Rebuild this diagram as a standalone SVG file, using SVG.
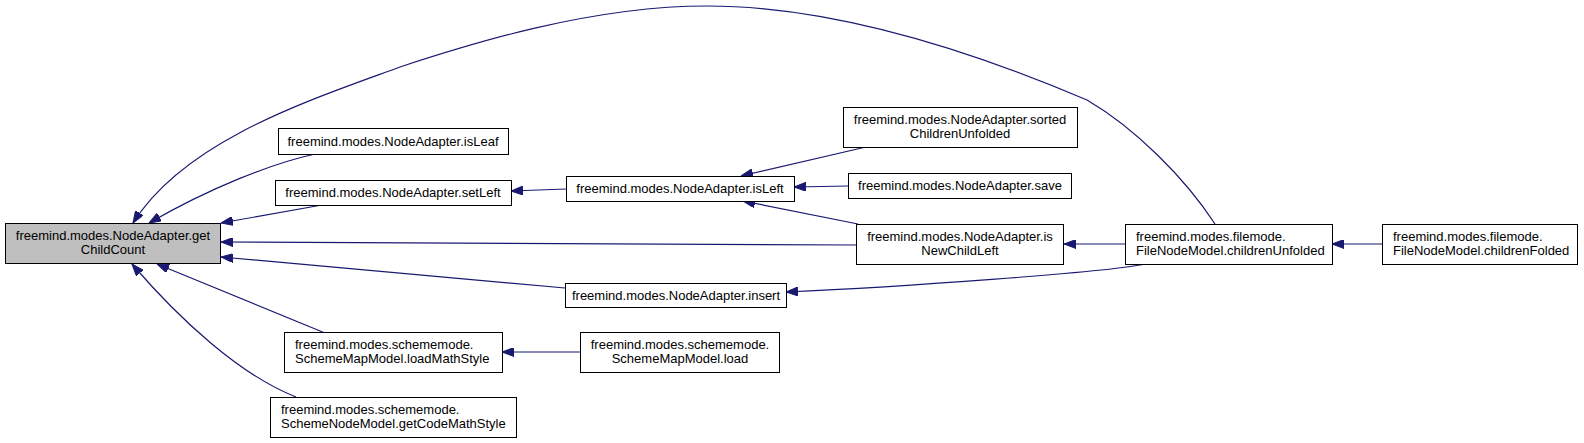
<svg xmlns="http://www.w3.org/2000/svg" width="1584" height="443" viewBox="0 0 1584 443">
<style>
.n rect{fill:#fff;stroke:#000;stroke-width:1}
.n.root rect{fill:#bfbfbf}
.n text{font-family:"Liberation Sans",Arial,sans-serif;font-size:13px;fill:#000}
.c{text-anchor:middle}
#edges path{fill:none;stroke:#191970;stroke-width:1.2}
</style>
<defs>
<marker id="ah" markerUnits="userSpaceOnUse" markerWidth="12" markerHeight="9" viewBox="0 0 12 9" refX="12" refY="4.5" orient="auto">
<path d="M0,0 L12,4.5 L0,9 z" fill="#191970" stroke="#191970"/>
</marker>
</defs>
<rect width="1584" height="443" fill="#fff"/>
<g id="edges">
<path marker-end="url(#ah)" d="M1215,224 C1185,178 1135,128 1087,100 C1000,63 850,6 707,6 C590,6 470,44 400,67 C310,100 185,140 133,223"/>
<path marker-end="url(#ah)" d="M315,154 C270,164 210,188 149,223"/>
<path marker-end="url(#ah)" d="M322,205 L221,223"/>
<path marker-end="url(#ah)" d="M856,245 L221,242"/>
<path marker-end="url(#ah)" d="M565,288 L221,257"/>
<path marker-end="url(#ah)" d="M325,333 L157,264"/>
<path marker-end="url(#ah)" d="M296,397 C240,375 180,320 132,264"/>
<path marker-end="url(#ah)" d="M566,189 L511,191"/>
<path marker-end="url(#ah)" d="M866,147 L741,176"/>
<path marker-end="url(#ah)" d="M848,186 L794,187"/>
<path marker-end="url(#ah)" d="M858,224 L743,201"/>
<path marker-end="url(#ah)" d="M1125,244 L1064,244"/>
<path marker-end="url(#ah)" d="M1145,264 C1110,272 900,287 786,292"/>
<path marker-end="url(#ah)" d="M580,352 L502,352"/>
<path marker-end="url(#ah)" d="M1382,244 L1332,244"/>
</g>
<g id="getChildCount" class="n root"><rect x="5.5" y="223.5" width="215" height="40"/><text class="c" x="113" y="240">freemind.modes.NodeAdapter.get</text><text class="c" x="113" y="254">ChildCount</text></g>
<g id="isLeaf" class="n"><rect x="278.5" y="128.5" width="230" height="26"/><text class="c" x="393" y="146">freemind.modes.NodeAdapter.isLeaf</text></g>
<g id="setLeft" class="n"><rect x="275.5" y="180.5" width="236" height="25"/><text class="c" x="393" y="197">freemind.modes.NodeAdapter.setLeft</text></g>
<g id="loadMathStyle" class="n"><rect x="284.5" y="332.5" width="218" height="40"/><text x="295" y="349">freemind.modes.schememode.</text><text x="295" y="363">SchemeMapModel.loadMathStyle</text></g>
<g id="getCodeMathStyle" class="n"><rect x="270.5" y="397.5" width="246" height="40"/><text x="281" y="414">freemind.modes.schememode.</text><text x="281" y="428">SchemeNodeModel.getCodeMathStyle</text></g>
<g id="isLeft" class="n"><rect x="566.5" y="176.5" width="228" height="25"/><text class="c" x="680" y="193">freemind.modes.NodeAdapter.isLeft</text></g>
<g id="insert" class="n"><rect x="565.5" y="283.5" width="221" height="24"/><text class="c" x="676" y="300">freemind.modes.NodeAdapter.insert</text></g>
<g id="load" class="n"><rect x="580.5" y="332.5" width="199" height="40"/><text class="c" x="680" y="349">freemind.modes.schememode.</text><text class="c" x="680" y="363">SchemeMapModel.load</text></g>
<g id="sortedChildrenUnfolded" class="n"><rect x="843.5" y="107.5" width="234" height="40"/><text class="c" x="960" y="124">freemind.modes.NodeAdapter.sorted</text><text class="c" x="960" y="138">ChildrenUnfolded</text></g>
<g id="save" class="n"><rect x="848.5" y="173.5" width="223" height="25"/><text class="c" x="960" y="190">freemind.modes.NodeAdapter.save</text></g>
<g id="isNewChildLeft" class="n"><rect x="856.5" y="224.5" width="207" height="40"/><text class="c" x="960" y="241">freemind.modes.NodeAdapter.is</text><text class="c" x="960" y="255">NewChildLeft</text></g>
<g id="childrenUnfolded" class="n"><rect x="1125.5" y="224.5" width="207" height="40"/><text x="1136" y="241">freemind.modes.filemode.</text><text x="1136" y="255">FileNodeModel.childrenUnfolded</text></g>
<g id="childrenFolded" class="n"><rect x="1382.5" y="224.5" width="195" height="40"/><text x="1393" y="241">freemind.modes.filemode.</text><text x="1393" y="255">FileNodeModel.childrenFolded</text></g>
</svg>
